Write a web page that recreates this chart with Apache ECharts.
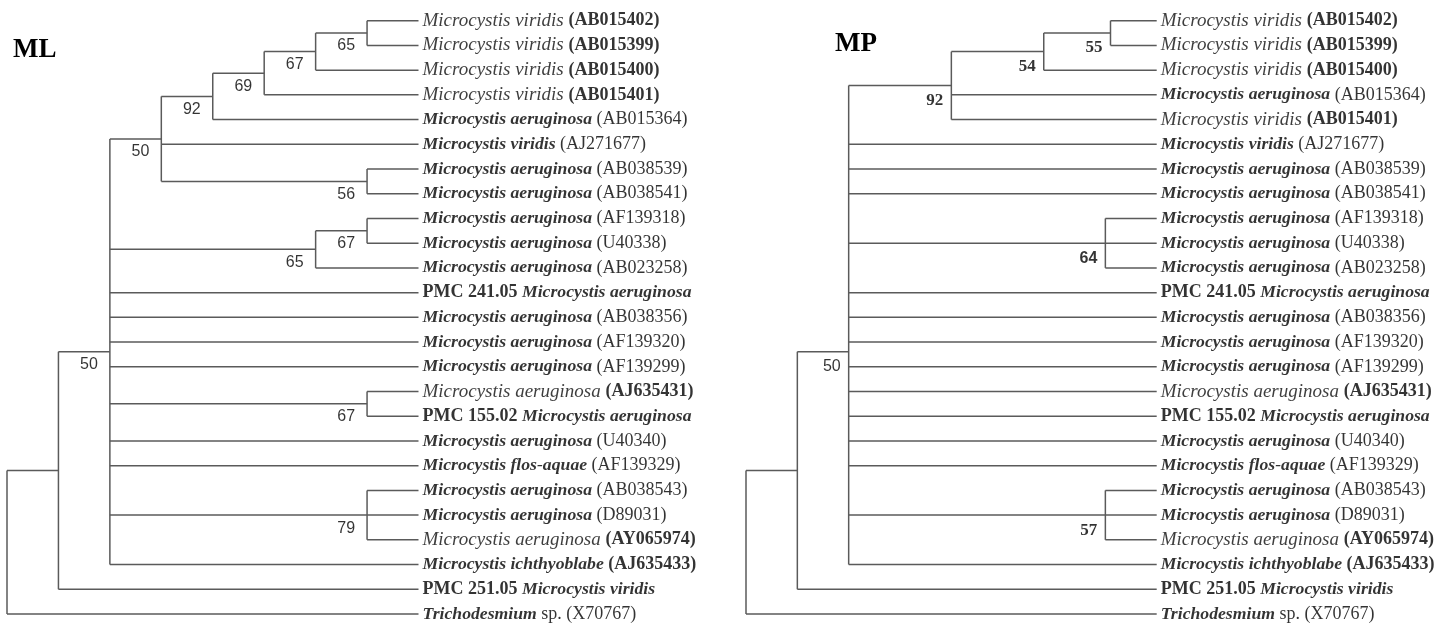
<!DOCTYPE html>
<html><head><meta charset="utf-8">
<script src="https://cdn.jsdelivr.net/npm/echarts@6/dist/echarts.min.js"></script>
<style>html,body{margin:0;padding:0;background:#fff}#chart{width:1452px;height:623px}</style>
</head><body><div id="chart"></div>
<script>
// ---------------- data ----------------
const panelTitles = ['ML', 'MP'];
const LEAF_DEPTH = 8;

const taxaML = [
  'Microcystis viridis (AB015402)',
  'Microcystis viridis (AB015399)',
  'Microcystis viridis (AB015400)',
  'Microcystis viridis (AB015401)',
  'Microcystis aeruginosa (AB015364)',
  'Microcystis viridis (AJ271677)',
  'Microcystis aeruginosa (AB038539)',
  'Microcystis aeruginosa (AB038541)',
  'Microcystis aeruginosa (AF139318)',
  'Microcystis aeruginosa (U40338)',
  'Microcystis aeruginosa (AB023258)',
  'PMC 241.05 Microcystis aeruginosa',
  'Microcystis aeruginosa (AB038356)',
  'Microcystis aeruginosa (AF139320)',
  'Microcystis aeruginosa (AF139299)',
  'Microcystis aeruginosa (AJ635431)',
  'PMC 155.02 Microcystis aeruginosa',
  'Microcystis aeruginosa (U40340)',
  'Microcystis flos-aquae (AF139329)',
  'Microcystis aeruginosa (AB038543)',
  'Microcystis aeruginosa (D89031)',
  'Microcystis aeruginosa (AY065974)',
  'Microcystis ichthyoblabe (AJ635433)',
  'PMC 251.05 Microcystis viridis',
  'Trichodesmium sp. (X70767)'
];

const taxaMP = [
  'Microcystis viridis (AB015402)',
  'Microcystis viridis (AB015399)',
  'Microcystis viridis (AB015400)',
  'Microcystis aeruginosa (AB015364)',
  'Microcystis viridis (AB015401)',
  'Microcystis viridis (AJ271677)',
  'Microcystis aeruginosa (AB038539)',
  'Microcystis aeruginosa (AB038541)',
  'Microcystis aeruginosa (AF139318)',
  'Microcystis aeruginosa (U40338)',
  'Microcystis aeruginosa (AB023258)',
  'PMC 241.05 Microcystis aeruginosa',
  'Microcystis aeruginosa (AB038356)',
  'Microcystis aeruginosa (AF139320)',
  'Microcystis aeruginosa (AF139299)',
  'Microcystis aeruginosa (AJ635431)',
  'PMC 155.02 Microcystis aeruginosa',
  'Microcystis aeruginosa (U40340)',
  'Microcystis flos-aquae (AF139329)',
  'Microcystis aeruginosa (AB038543)',
  'Microcystis aeruginosa (D89031)',
  'Microcystis aeruginosa (AY065974)',
  'Microcystis ichthyoblabe (AJ635433)',
  'PMC 251.05 Microcystis viridis',
  'Trichodesmium sp. (X70767)'
];

// tree nodes: d = node depth, s = bootstrap support, c = children (leaf row index or node), at = drawn row of node
const treeML = {id: 'root', d: 0, c: [
  {id: 'A', d: 1, c: [
    {id: 'B', d: 2, s: 50, c: [
      {id: 'C', d: 3, s: 50, c: [
        {id: 'n92', d: 4, s: 92, c: [
          {id: 'n69', d: 5, s: 69, c: [
            {id: 'n67', d: 6, s: 67, c: [
              {id: 'n65', d: 7, s: 65, c: [0, 1]}, 2]}, 3]}, 4]},
        5,
        {id: 'n56', d: 7, s: 56, c: [6, 7]}]},
      {id: 'n65b', d: 6, s: 65, c: [{id: 'n67b', d: 7, s: 67, c: [8, 9]}, 10]},
      11, 12, 13, 14,
      {id: 'n67c', d: 7, s: 67, c: [15, 16]},
      17, 18,
      {id: 'n79', d: 7, s: 79, c: [19, 20, 21]},
      22]},
    23]},
  24]};

const treeMP = {id: 'root', d: 0, c: [
  {id: 'A', d: 1, c: [
    {id: 'B', d: 2, s: 50, at: 13.39, c: [
      {id: 'n92', d: 4, s: 92, c: [
        {id: 'n54', d: 5.8, s: 54, c: [
          {id: 'n55', d: 7.1, s: 55, c: [0, 1]}, 2]}, 3, 4]},
      5, 6, 7,
      {id: 'n64', d: 7, s: 64, c: [8, 9, 10]},
      11, 12, 13, 14, 15, 16, 17, 18,
      {id: 'n57', d: 7, s: 57, c: [19, 20, 21]},
      22]},
    23]},
  24]};

// ---------------- styling ----------------
const plainItalicAcc = new Set(['AB015402', 'AB015399', 'AB015400', 'AB015401', 'AJ635431', 'AY065974']);
const boldAccOnly = new Set(['AJ635433']);
const mpSansNodes = new Set(['B', 'n64']);
const LINE = '#5a5a5a';
const SERIF = '"Liberation Serif", "DejaVu Serif", serif';
const SANS = '"Liberation Sans", Arial, sans-serif';

const rich = {
  i:   {fontFamily: SERIF, fontStyle: 'italic', fontWeight: 'normal', fontSize: 19, color: '#0d0d0d'},
  bi:  {fontFamily: SERIF, fontStyle: 'italic', fontWeight: 'bold', fontSize: 17.7, color: '#000'},
  r:   {fontFamily: SERIF, fontStyle: 'normal', fontWeight: 'normal', fontSize: 18, color: '#000'},
  b:   {fontFamily: SERIF, fontStyle: 'normal', fontWeight: 'bold', fontSize: 18, color: '#000'}
};

function richLabel(t) {
  let m;
  if ((m = t.match(/^(PMC [\d.]+) (.+)$/))) return '{b|' + m[1] + ' }{bi|' + m[2] + '}';
  if ((m = t.match(/^(\S+) (sp\..*)$/))) return '{bi|' + m[1] + ' }{r|' + m[2] + '}';
  m = t.match(/^(.+) \((.+)\)$/);
  const acc = m[2];
  if (plainItalicAcc.has(acc)) return '{i|' + m[1] + ' }{b|(' + acc + ')}';
  if (boldAccOnly.has(acc)) return '{bi|' + m[1] + ' }{b|(' + acc + ')}';
  return '{bi|' + m[1] + ' }{r|(' + acc + ')}';
}

function layout(tree) {
  const segs = [], supports = [];
  function walk(node) {
    if (typeof node === 'number') return node;
    const ys = node.c.map(walk);
    const lo = Math.min.apply(null, ys), hi = Math.max.apply(null, ys);
    const y = node.at != null ? node.at : (lo + hi) / 2;
    node.c.forEach((ch, k) => {
      const cd = typeof ch === 'number' ? LEAF_DEPTH : ch.d;
      segs.push([node.d, ys[k], cd, ys[k]]);
    });
    segs.push([node.d, lo, node.d, hi]);
    if (node.s != null) supports.push({value: [node.d, y, node.s], id: node.id});
    return y;
  }
  walk(tree);
  return {segs, supports};
}

const L = [layout(treeML), layout(treeMP)];
const taxa = [taxaML, taxaMP];

const chart = echarts.init(document.getElementById('chart'), null, {renderer: 'canvas'});

const grids = [
  {left: 7, top: 20.7, width: 411.5, height: 593.3},
  {left: 746, top: 20.7, width: 410.7, height: 593.3}
];

const series = [];
[0, 1].forEach(p => {
  series.push({
    type: 'custom', xAxisIndex: p, yAxisIndex: p, silent: true, clip: false,
    encode: {x: [0, 2], y: [1, 3]},
    data: L[p].segs,
    renderItem: function (params, api) {
      const a = api.coord([api.value(0), api.value(1)]);
      const b = api.coord([api.value(2), api.value(3)]);
      return {type: 'line', shape: {x1: a[0], y1: a[1], x2: b[0], y2: b[1]},
        style: {stroke: LINE, lineWidth: 1.5}};
    }
  });
  series.push({
    type: 'scatter', xAxisIndex: p, yAxisIndex: p, silent: true, symbolSize: 0,
    data: taxa[p].map((t, i) => [LEAF_DEPTH, i]),
    label: {show: true, position: 'right', distance: 4, color: '#000',
      formatter: (prm) => richLabel(taxa[p][prm.dataIndex]), rich: rich}
  });
  series.push({
    type: 'scatter', xAxisIndex: p, yAxisIndex: p, silent: true, symbolSize: 0,
    data: L[p].supports.map(s => {
      const sans = p === 0 || mpSansNodes.has(s.id);
      return {value: s.value, label: {
        fontFamily: sans ? SANS : SERIF,
        fontWeight: (p === 1 && s.id !== 'B') ? 'bold' : 'normal',
        fontSize: sans ? 16 : 17
      }};
    }),
    label: {show: true, position: 'left', distance: p === 0 ? 12 : 8, offset: [0, p === 0 ? 13 : 15],
      color: '#000', formatter: (prm) => String(prm.value[2])}
  });
});

chart.setOption({
  animation: false,
  backgroundColor: '#fff',
  grid: grids,
  xAxis: grids.map((g, i) => ({type: 'value', gridIndex: i, min: 0, max: LEAF_DEPTH, show: false})),
  yAxis: grids.map((g, i) => ({type: 'value', gridIndex: i, min: 0, max: 24, inverse: true, show: false})),
  graphic: [
    {type: 'text', left: 13, top: 37, style: {text: panelTitles[0], font: 'bold 27px ' + SERIF, fill: '#000'}},
    {type: 'text', left: 835, top: 31, style: {text: panelTitles[1], font: 'bold 27px ' + SERIF, fill: '#000'}}
  ],
  series: series
});
</script>
</body></html>
